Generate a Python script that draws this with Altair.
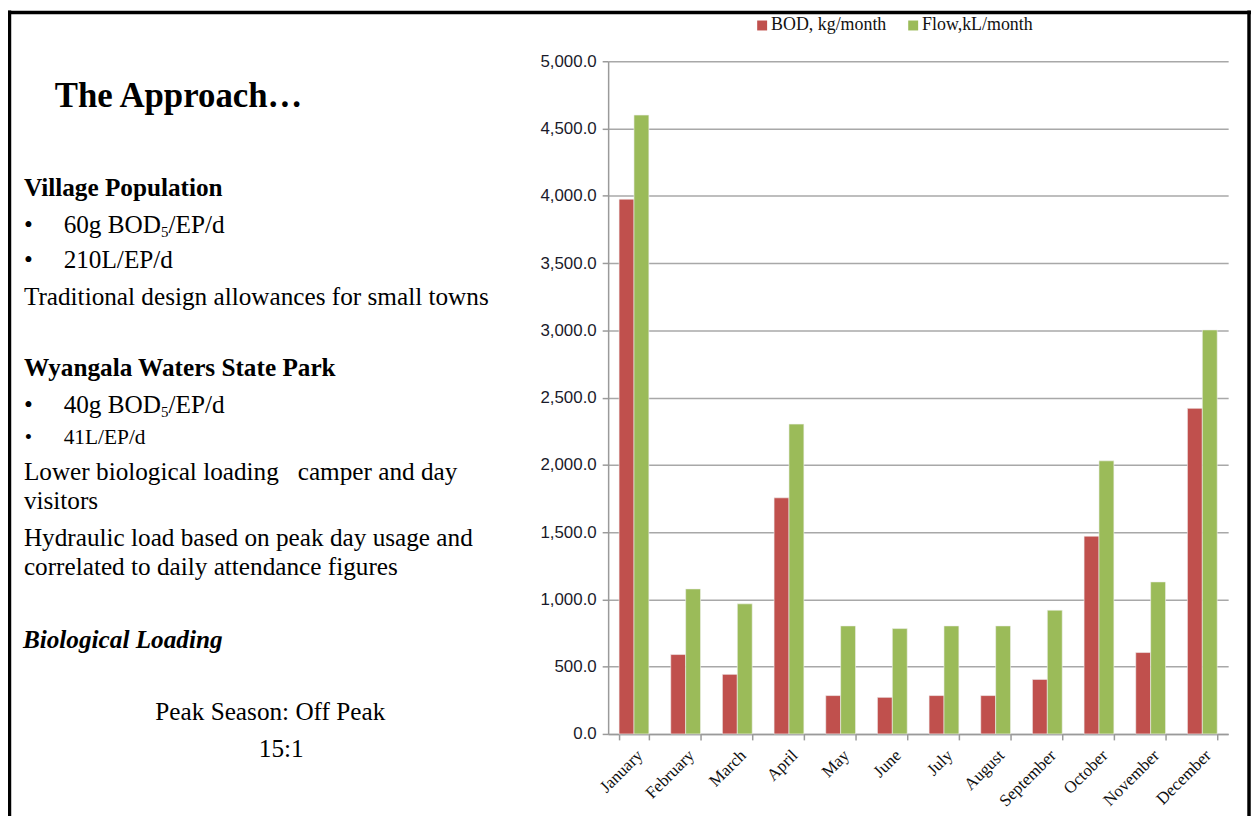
import altair as alt
import pandas as pd

# ---------------- data ----------------
months = ["January", "February", "March", "April", "May", "June", "July",
          "August", "September", "October", "November", "December"]
bod = [3975, 590, 443, 1755, 285, 272, 285, 285, 405, 1470, 605, 2420]
flow = [4600, 1078, 967, 2303, 803, 783, 803, 803, 920, 2030, 1130, 3003]
series_names = ["BOD, kg/month", "Flow,kL/month"]
colors = ["#C0504D", "#9BBB59"]
y_ticks = [0, 500, 1000, 1500, 2000, 2500, 3000, 3500, 4000, 4500, 5000]

rows = []
for m, b, f in zip(months, bod, flow):
    rows.append({"month": m, "series": series_names[0], "value": b})
    rows.append({"month": m, "series": series_names[1], "value": f})
df = pd.DataFrame(rows)

OX, OY = 612, 59  # page position of the plot origin
SERIF = "Liberation Serif"
BODY = 25.4

bars = alt.Chart(df).mark_bar(stroke="#f2f2f2", strokeWidth=0.6).encode(
    x=alt.X("month:N", sort=months, title=None,
            scale=alt.Scale(paddingInner=0.423, paddingOuter=0.2115),
            axis=alt.Axis(labelAngle=-45, labelFont=SERIF, labelFontSize=17,
                          labelColor="#111111", tickBand="extent", tickSize=6,
                          tickColor="#9a9a9a", tickWidth=1.5, domainColor="#9a9a9a",
                          domainWidth=1.5, labelPadding=7, grid=False)),
    xOffset=alt.XOffset("series:N", sort=series_names,
                        scale=alt.Scale(paddingInner=0, paddingOuter=0)),
    y=alt.Y("value:Q", title=None,
            scale=alt.Scale(domain=[0, 5000], nice=False),
            axis=alt.Axis(values=y_ticks, format=",.1f", labelFont="Liberation Sans",
                          labelFontSize=17, labelColor="#1a1a2a", tickSize=6,
                          tickColor="#9a9a9a", tickWidth=1.5, domainColor="#9a9a9a",
                          domainWidth=1.5, labelPadding=6, grid=True,
                          gridColor="#a8a8a8", gridWidth=1.5)),
    color=alt.Color("series:N", sort=series_names,
                    scale=alt.Scale(domain=series_names, range=colors),
                    legend=alt.Legend(title=None, orient="none", legendX=146, legendY=-45,
                                      direction="horizontal", symbolType="square",
                                      symbolSize=100, symbolStrokeWidth=0,
                                      labelFont=SERIF, labelFontSize=18,
                                      labelColor="#111111", columnPadding=17,
                                      labelOffset=0)),
)

one = pd.DataFrame({"k": [0]})


def txt(s, px, py, size=BODY, weight="normal", style="normal", align="left"):
    return alt.Chart(one).mark_text(
        text=s, font=SERIF, fontSize=size, fontWeight=weight, fontStyle=style,
        align=align, baseline="alphabetic", color="#000000"
    ).encode(x=alt.value(px - OX), y=alt.value(py - OY))


def line(x1, y1, x2, y2, w=3.5):
    return alt.Chart(one).mark_rule(color="#000000", strokeWidth=w).encode(
        x=alt.value(x1 - OX), x2=alt.value(x2 - OX),
        y=alt.value(y1 - OY), y2=alt.value(y2 - OY))


texts = [
    txt("The Approach…", 55, 105, size=35, weight="bold"),
    txt("Village Population", 24, 195, weight="bold"),
    txt("•", 28.5, 232, align="center"),
    txt("60g BOD", 64, 232),
    txt("5", 162, 236, size=15),
    txt("/EP/d", 169.5, 232),
    txt("•", 28.5, 267, align="center"),
    txt("210L/EP/d", 64, 267),
    txt("Traditional design allowances for small towns", 24, 304),
    txt("Wyangala Waters State Park", 24, 376, weight="bold"),
    txt("•", 28.5, 413, align="center"),
    txt("40g BOD", 64, 413),
    txt("5", 162, 417, size=15),
    txt("/EP/d", 169.5, 413),
    txt("•", 28.5, 444, size=21, align="center"),
    txt("41L/EP/d", 64, 444, size=21.5),
    txt("Lower biological loading\u00a0\u00a0 camper and day", 24, 480),
    txt("visitors", 24, 510),
    txt("Hydraulic load based on peak day usage and", 24, 547),
    txt("correlated to daily attendance figures", 24, 576),
    txt("Biological Loading", 23, 650, weight="bold", style="italic"),
    txt("Peak Season: Off Peak", 272, 722, align="center"),
    txt("15:1", 283, 759, align="center"),
]

border = [
    line(9.5, 8, 9.5, 830),
    line(8, 10, 1259, 10),
    line(1257, 8, 1257, 830),
]

chart = alt.layer(bars, *texts, *border).properties(
    width=624, height=677,
    padding={"left": 604, "top": 51, "right": 24, "bottom": 80},
    autosize=alt.AutoSizeParams(type="none"),
    background="white",
).configure_view(stroke=None)

chart.save("out.html", embed_options={"renderer": "svg", "actions": False})
